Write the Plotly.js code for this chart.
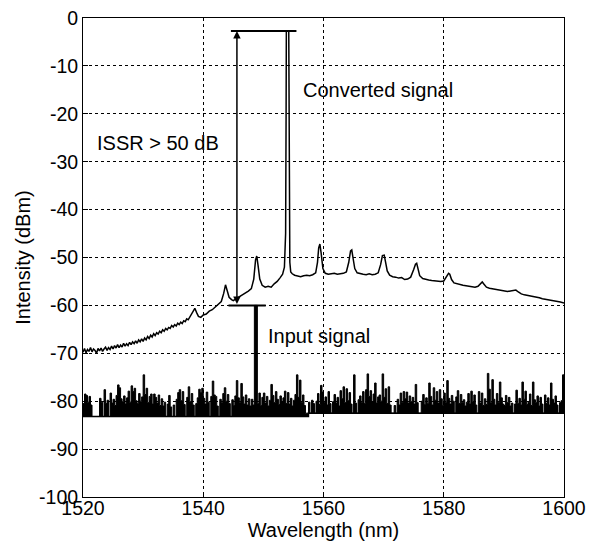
<!DOCTYPE html>
<html>
<head>
<meta charset="utf-8">
<script src="https://cdn.plot.ly/plotly-3.0.1.min.js"></script>
<style>html,body{margin:0;padding:0;background:#fff;}#chart{width:592px;height:544px;}</style>
</head>
<body>
<div id="chart"></div>
<script>
// Converted signal spectrum (wavelength nm, intensity dBm)
var convX = [
1520,1520.25,1520.5,1520.75,1521,1521.25,1521.5,1521.75,1522,1522.25,1522.5,1522.75,1523,1523.25,1523.5,1523.75,
1524,1524.25,1524.5,1524.75,1525,1525.25,1525.5,1525.75,1526,1526.25,1526.5,1526.75,1527,1527.25,1527.5,1527.75,
1528,1528.25,1528.5,1528.75,1529,1529.25,1529.5,1529.75,1530,1530.25,1530.5,1530.75,1531,1531.25,1531.5,1531.75,
1532,1532.25,1532.5,1532.75,1533,1533.25,1533.5,1533.75,1534,1534.25,1534.5,1534.75,1535,1535.25,1535.5,1535.75,
1536,1536.25,1536.5,1536.75,1537,1537.25,1537.5,1537.75,
1538,1538.3,1538.6,1538.9,1539.2,1539.6,1540,1540.5,1541,1541.5,1542,1542.5,1543,1543.4,1543.7,1544,1544.3,1544.7,1545,1545.5,
1546,1546.5,1547,1547.5,1548,1548.4,1548.7,1548.9,1549.1,1549.4,1549.8,1550.3,1550.8,1551.3,1551.8,1552.3,1552.8,1553.2,1553.5,1553.7,
1553.78,1553.82,1554.22,1554.26,1554.3,1554.4,1554.55,1554.8,1555.2,1555.7,1556.2,1556.7,1557.2,1557.7,1558.2,1558.7,1559.0,1559.2,1559.4,1559.6,
1559.9,1560.3,1560.8,1561.3,1561.8,1562.3,1562.8,1563.3,1563.8,1564.2,1564.5,1564.7,1564.9,1565.2,1565.6,1566.1,1566.6,1567.1,1567.6,1568.1,
1568.6,1569.1,1569.5,1569.8,1570.1,1570.3,1570.6,1571.0,1571.5,1572,1572.5,1573,1573.5,1574,1574.5,1575,1575.3,1575.5,1575.7,1576,
1576.5,1577,1577.5,1578,1578.5,1579,1579.5,1580,1580.5,1580.8,1581,1581.3,1581.7,1582.2,1582.7,1583.2,1583.7,1584.2,1584.7,1585.2,
1585.7,1586.1,1586.4,1586.7,1587.1,1587.6,1588.1,1588.6,1589.1,1589.6,1590.1,1590.6,1591.1,1591.6,1592,1592.4,1592.9,1593.4,1593.9,1594.4,
1594.9,1595.4,1595.9,1596.4,1596.9,1597.4,1597.9,1598.4,1598.9,1599.4,1600];
var convY = [
-69.8,-69.0,-69.9,-69.2,-69.6,-68.8,-69.7,-69.1,-69.4,-70.0,-69.0,-69.5,-68.9,-69.6,-69.1,-68.7,
-69.4,-68.8,-69.2,-68.5,-69.1,-68.4,-68.9,-68.2,-68.8,-68.3,-68.7,-67.9,-68.5,-68.0,-68.4,-67.7,
-68.2,-67.6,-68.0,-67.4,-67.9,-67.2,-67.6,-67.0,-67.5,-66.8,-67.2,-66.5,-66.9,-66.2,-66.6,-65.9,
-66.3,-65.7,-66.0,-65.4,-65.7,-65.1,-65.4,-64.8,-65.1,-64.6,-64.8,-64.2,-64.5,-64.0,-64.3,-63.7,
-64.0,-63.5,-63.8,-63.2,-63.4,-62.8,-63.0,-62.4,
-62.0,-61.0,-60.6,-61.5,-62.3,-62.5,-62.0,-61.8,-61.2,-60.9,-60.3,-59.9,-59.2,-57.5,-55.7,-57.0,-58.3,-58.8,-59.0,-58.6,
-58.2,-57.8,-57.5,-57.0,-56.5,-54.5,-50.5,-49.7,-51.5,-54.5,-55.8,-56.2,-56.0,-56.2,-55.5,-55.0,-54.2,-53.5,-52.0,-45,
-20,-2.7,-2.7,-12,-40,-51,-53.0,-53.4,-53.7,-53.9,-54.0,-53.8,-53.7,-53.8,-53.6,-53.2,-51.0,-48.0,-47.2,-49.0,
-52.3,-53.3,-53.5,-53.4,-53.3,-53.5,-53.4,-53.3,-53.0,-51.0,-48.6,-48.4,-50.0,-52.3,-53.2,-53.4,-53.5,-53.6,-53.4,-53.6,
-53.5,-53.2,-51.5,-49.6,-49.5,-50.8,-52.8,-53.7,-54.0,-54.1,-54.3,-54.2,-54.6,-54.5,-54.1,-52.5,-51.4,-51.2,-52.3,-53.8,
-54.4,-54.6,-54.7,-54.8,-54.9,-55.0,-55.0,-54.9,-54.0,-53.3,-53.5,-54.6,-55.3,-55.5,-55.7,-55.8,-55.9,-56.0,-56.1,-56.2,
-56.0,-55.4,-55.1,-55.6,-56.2,-56.4,-56.5,-56.6,-56.8,-56.8,-57.0,-57.1,-57.0,-56.9,-56.8,-57.2,-57.6,-57.8,-57.9,-58.1,
-58.2,-58.3,-58.4,-58.6,-58.7,-58.9,-58.9,-59.1,-59.2,-59.3,-59.5];

// Input signal + noise spectrum, sampled every 0.25 nm from 1520 nm
var noiseStartNm = 1520;
var noiseStepNm = 0.25;
var noiseY = [
-80.5,-78.5,-78.8,-80.2,-79.0,-80.8,-83.2,-83.2,
-83.2,-83.2,-83.2,-79.4,-80.2,-83.2,-77.6,-80.5,
-79.8,-83.2,-78.3,-80.4,-79.6,-80.9,-78.8,-76.6,
-77.2,-79.5,-80.1,-78.9,-80.6,-79.3,-77.9,-80.2,
-76.8,-78.0,-77.3,-79.9,-80.5,-78.4,-80.0,-79.1,
-74.5,-78.6,-77.3,-80.3,-79.0,-78.5,-80.6,-78.5,
-79.2,-80.4,-78.7,-80.9,-79.5,-81.0,-80.2,-83.2,
-80.6,-78.8,-81.2,-83.2,-80.8,-83.2,-79.6,-78.2,
-77.6,-79.9,-78.0,-80.7,-83.2,-79.2,-77.0,-80.1,
-78.4,-80.8,-83.2,-80.5,-79.3,-77.5,-78.2,-77.3,
-79.4,-80.6,-78.1,-80.2,-83.2,-79.0,-75.8,-78.7,
-79.0,-81.0,-83.2,-79.6,-80.3,-78.4,-77.2,-80.0,
-78.6,-80.5,-83.2,-79.7,-80.9,-78.9,-75.7,-79.3,
-80.2,-76.3,-79.1,-80.6,-78.7,-80.8,-79.5,-81.0,
-79.6,-80.8,-60.0,-60.0,-80.5,-78.3,-80.9,-79.2,
-78.3,-80.4,-79.0,-81.0,-79.8,-76.5,-78.8,-80.3,
-78.0,-79.6,-80.7,-78.9,-80.1,-79.3,-77.9,-80.5,
-78.2,-80.6,-79.4,-81.0,-79.8,-78.6,-74.5,-79.2,
-75.6,-80.3,-78.7,-80.9,-82.5,-82.5,-80.2,-82.5,
-79.8,-80.5,-82.5,-80.0,-78.4,-80.7,-76.7,-78.1,
-80.3,-79.1,-80.8,-78.0,-80.5,-82.5,-80.1,-78.6,
-80.4,-79.2,-81.0,-77.8,-79.5,-77.0,-80.3,-77.4,
-79.9,-78.2,-80.6,-82.5,-74.5,-80.4,-82.5,-79.7,
-78.9,-80.2,-78.0,-80.5,-77.6,-74.3,-79.0,-77.8,
-80.1,-78.5,-76.2,-80.4,-79.1,-78.7,-80.0,-74.3,
-79.2,-77.4,-80.5,-77.0,-80.8,-82.5,-82.5,-80.9,
-82.5,-79.6,-80.8,-78.3,-80.2,-78.0,-79.5,-78.1,
-80.4,-78.9,-80.1,-79.2,-80.6,-76.5,-80.3,-82.5,
-82.5,-80.0,-78.6,-80.7,-79.3,-80.5,-76.2,-79.0,
-80.8,-77.2,-79.8,-78.0,-80.4,-77.6,-79.5,-80.9,
-78.3,-80.2,-75.7,-79.4,-80.6,-78.8,-80.0,-82.5,
-79.1,-77.8,-80.5,-78.6,-80.3,-79.7,-81.0,-80.2,
-78.4,-80.6,-77.9,-80.1,-78.7,-80.8,-82.5,-78.0,
-80.4,-78.3,-80.9,-79.5,-80.7,-74.2,-77.5,-80.3,
-75.5,-79.6,-80.8,-78.4,-80.2,-76.0,-79.3,-80.6,
-80.9,-78.8,-80.3,-79.2,-81.0,-80.4,-82.5,-80.6,
-77.7,-80.5,-79.4,-80.8,-76.0,-79.6,-77.9,-80.7,
-80.2,-78.5,-80.9,-76.0,-79.7,-80.3,-78.9,-81.0,
-79.2,-80.6,-82.5,-78.7,-80.5,-79.3,-80.8,-76.2,
-79.6,-80.4,-78.9,-80.8,-82.5,-80.3,-79.9,-74.5,
-80.0];
// Noise floor of the OSA trace
var floorX = [1520, 1557.5, 1600];
var floorY = [-83.2, -82.5, -82.5];

// Axis ticks
var xTicks = [1520, 1540, 1560, 1580, 1600];
var yTicks = [0, -10, -20, -30, -40, -50, -60, -70, -80, -90, -100];

// Annotation bar extents (nm)
var convBarNm = [1544.6, 1555.5];
var inputBarNm = [1544.2, 1550.4];
var arrowNm = 1545.6;

var noiseX = noiseY.map(function(_, i){ return noiseStartNm + noiseStepNm * i; });
var convPeak = Math.max.apply(null, convY);
var inputPeak = Math.max.apply(null, noiseY);

var traces = [
  {x: floorX, y: floorY, mode: 'lines', line: {color: '#000', width: 1.5, shape: 'hv'}, hoverinfo: 'skip', showlegend: false},
  {x: noiseX, y: noiseY, mode: 'lines', line: {color: '#000', width: 1, shape: 'hv'}, fill: 'tonexty', fillcolor: '#000', showlegend: false},
  {x: convX, y: convY, mode: 'lines', line: {color: '#000', width: 1.5}, showlegend: false}
];

var fam = 'Arial, "Liberation Sans", sans-serif';
var layout = {
  width: 592, height: 544,
  margin: {l: 83, r: 28, t: 18, b: 47},
  paper_bgcolor: '#fff', plot_bgcolor: '#fff',
  font: {family: fam, color: '#000', size: 20},
  xaxis: {
    range: [1520, 1600], tickvals: xTicks, ticktext: xTicks.map(String),
    showgrid: true, gridcolor: '#000', gridwidth: 1, griddash: '3px,3px',
    zeroline: false, showline: true, mirror: true, linecolor: '#000', linewidth: 1,
    ticks: 'inside', ticklen: 5, tickcolor: '#000', ticklabelstandoff: -6,
    tickfont: {family: fam, size: 19.5, color: '#000'},
    title: {text: 'Wavelength (nm)', font: {family: fam, size: 20, color: '#000'}, standoff: 4}
  },
  yaxis: {
    range: [-100, 0], tickvals: yTicks, ticktext: yTicks.map(String),
    showgrid: true, gridcolor: '#000', gridwidth: 1, griddash: '3px,3px',
    zeroline: false, showline: true, mirror: true, linecolor: '#000', linewidth: 1,
    ticks: 'inside', ticklen: 5, tickcolor: '#000',
    tickfont: {family: fam, size: 19.5, color: '#000'},
    title: {text: 'Intensity (dBm)', font: {family: fam, size: 20, color: '#000'}, standoff: 3}
  },
  shapes: [
    {type: 'line', xref: 'x', yref: 'y', x0: convBarNm[0], x1: convBarNm[1], y0: convPeak, y1: convPeak, line: {color: '#000', width: 2}},
    {type: 'line', xref: 'x', yref: 'y', x0: inputBarNm[0], x1: inputBarNm[1], y0: inputPeak, y1: inputPeak, line: {color: '#000', width: 2}}
  ],
  annotations: [
    {x: arrowNm, y: convPeak, ax: arrowNm, ay: inputPeak, xref: 'x', yref: 'y', axref: 'x', ayref: 'y',
     showarrow: true, arrowside: 'end+start', arrowhead: 2, arrowsize: 1, arrowwidth: 1.5, arrowcolor: '#000', text: ''},
    {x: 1556.2, y: -15, xref: 'x', yref: 'y', xanchor: 'left', yanchor: 'middle', showarrow: false,
     text: 'Converted signal', font: {family: fam, size: 20, color: '#000'}},
    {x: 1522.0, y: -26.1, xref: 'x', yref: 'y', xanchor: 'left', yanchor: 'middle', showarrow: false,
     text: 'ISSR &gt; 50 dB', font: {family: fam, size: 20, color: '#000'}},
    {x: 1550.4, y: -66.4, xref: 'x', yref: 'y', xanchor: 'left', yanchor: 'middle', showarrow: false,
     text: 'Input signal', font: {family: fam, size: 20, color: '#000'}}
  ]
};

Plotly.newPlot('chart', traces, layout, {staticPlot: true, displayModeBar: false});
</script>
</body>
</html>
